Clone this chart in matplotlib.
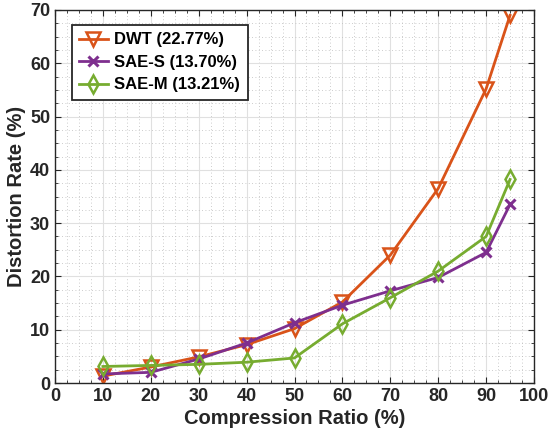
import matplotlib.pyplot as plt
from matplotlib.ticker import MultipleLocator

plt.rcParams['font.family'] = ['Liberation Sans', 'DejaVu Sans']
plt.rcParams['font.weight'] = 'bold'

# 數據
ratio = [10, 20, 30, 40, 50, 60, 70, 80, 90, 95]
dwt = [1.3, 3.0, 4.9, 7.2, 10.2, 15.2, 24.0, 36.5, 55.2, 69.0]
sae_s = [1.7, 2.0, 4.5, 7.5, 11.3, 14.6, 17.3, 19.8, 24.5, 33.5]
sae_m = [3.1, 3.3, 3.5, 3.9, 4.7, 11.1, 16.0, 21.0, 27.5, 38.2]
labels = ["DWT (22.77%)", "SAE-S (13.70%)", "SAE-M (13.21%)"]

fig = plt.figure(figsize=(5.48, 4.43), dpi=100)
ax = fig.add_axes([55 / 548, 1 - 383 / 443, 479 / 548, 373 / 443])

ax.plot(ratio, dwt, color="#D95319", lw=2, marker="v", ms=10, mfc="none", mew=1.8, label=labels[0])
ax.plot(ratio, sae_s, color="#7E2F8E", lw=2, marker="x", ms=7, mew=2.2, label=labels[1])
ax.plot(ratio, sae_m, color="#77AC30", lw=2, marker="d", ms=9, mfc="none", mew=1.8, label=labels[2])

ax.set_xlim(0, 100)
ax.set_ylim(0, 70)
ax.xaxis.set_major_locator(MultipleLocator(10))
ax.yaxis.set_major_locator(MultipleLocator(10))
ax.xaxis.set_minor_locator(MultipleLocator(2.5))
ax.yaxis.set_minor_locator(MultipleLocator(2.5))
ax.grid(True, which="major", color="#e0e0e0", lw=0.8)
ax.grid(True, which="minor", color="#bbbbbb", lw=0.6, ls=(0, (1, 3)))
ax.set_axisbelow(True)
ax.tick_params(which="both", direction="in", top=True, right=True, labelsize=13, colors="#262626")
ax.tick_params(which="major", length=4)
ax.tick_params(which="minor", length=2)
for s in ax.spines.values():
    s.set_color("#262626")
    s.set_linewidth(1)

ax.set_xlabel("Compression Ratio (%)", fontsize=14.5, fontweight="bold", color="#262626", labelpad=3)
ax.set_ylabel("Distortion Rate (%)", fontsize=14.5, fontweight="bold", color="#262626", labelpad=3)

leg = ax.legend(loc="upper left", bbox_to_anchor=(0.035, 0.96), fontsize=12, fancybox=False,
                edgecolor="#262626", framealpha=1, handlelength=1.7, handletextpad=0.4,
                borderpad=0.45, labelspacing=0.45, borderaxespad=0)
leg.get_frame().set_linewidth(1.3)

fig.savefig("out.png", dpi=100)
